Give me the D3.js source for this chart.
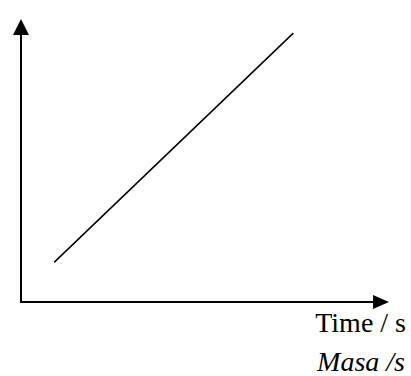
<!DOCTYPE html>
<html>
<head>
<meta charset="utf-8">
<script src="https://cdn.jsdelivr.net/npm/d3@7"></script>
<style>
  html, body { margin: 0; padding: 0; background: #fff; }
  svg { display: block; }
  .lbl { font-family: "Liberation Serif", "Times New Roman", Times, serif; font-size: 28px; }
</style>
</head>
<body>
<div id="chart"></div>
<script>
// axis extents (data units) and the single straight line
const xDomain = [0, 10];
const yDomain = [0, 10];
const lineTime = [0.9, 7.4];
const lineMass = [1.4, 9.5];
const xLabel = "Time / s";
const xLabel2 = "Masa /s";

const W = 411, H = 376;
const origin = { x: 21, y: 302 };

const svg = d3.select("#chart").append("svg")
    .attr("width", W)
    .attr("height", H);

const x = d3.scaleLinear().domain(xDomain).range([origin.x, 389]);
const y = d3.scaleLinear().domain(yDomain).range([origin.y, 19]);

// y axis with arrow
svg.append("line")
    .attr("x1", x(0)).attr("y1", y(0))
    .attr("x2", x(0)).attr("y2", y(yDomain[1]) + 10)
    .attr("stroke", "#000").attr("stroke-width", 2);
svg.append("path")
    .attr("d", `M${x(0)},${y(yDomain[1])} L${x(0) - 8},${y(yDomain[1]) + 16} L${x(0) + 8},${y(yDomain[1]) + 16} Z`)
    .attr("fill", "#000");

// x axis with arrow
svg.append("line")
    .attr("x1", x(0) - 1).attr("y1", y(0))
    .attr("x2", x(xDomain[1]) - 10).attr("y2", y(0))
    .attr("stroke", "#000").attr("stroke-width", 2);
svg.append("path")
    .attr("d", `M${x(xDomain[1])},${y(0)} L${x(xDomain[1]) - 16},${y(0) - 7} L${x(xDomain[1]) - 16},${y(0) + 7} Z`)
    .attr("fill", "#000");

const pts = lineTime.map((t, i) => [t, lineMass[i]]);
svg.append("path")
    .datum(pts)
    .attr("fill", "none")
    .attr("stroke", "#000")
    .attr("stroke-width", 1.5)
    .attr("d", d3.line().x(d => x(d[0])).y(d => y(d[1])));

svg.append("text")
    .attr("class", "lbl")
    .attr("x", 406).attr("y", 332)
    .attr("text-anchor", "end")
    .text(xLabel);

svg.append("text")
    .attr("class", "lbl")
    .attr("x", 405).attr("y", 371)
    .attr("text-anchor", "end")
    .style("font-style", "italic")
    .text(xLabel2);
</script>
</body>
</html>
